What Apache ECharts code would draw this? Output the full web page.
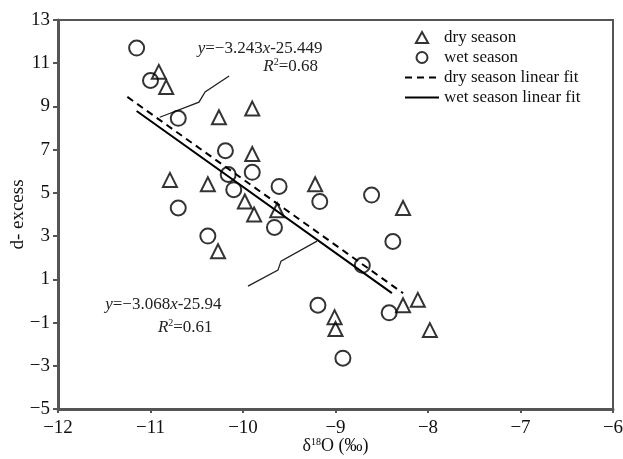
<!DOCTYPE html>
<html>
<head>
<meta charset="utf-8">
<script src="https://cdn.jsdelivr.net/npm/echarts@6/dist/echarts.min.js"></script>
<style>
html, body { margin: 0; padding: 0; background: #fff; }
#main { width: 623px; height: 459px; }
</style>
</head>
<body>
<div id="main"></div>
<script>
// dry season points (triangles)
var dryX = [-10.91, -10.83, -10.26, -9.90, -9.90, -10.79, -10.38, -9.98, -9.88, -9.63, -9.22, -8.27, -10.27, -9.01, -9.00, -8.27, -8.11, -7.98];
var dryY = [10.6, 9.9, 8.5, 8.9, 6.8, 5.6, 5.4, 4.6, 4.0, 4.2, 5.4, 4.3, 2.3, -0.75, -1.3, -0.2, 0.05, -1.35];
// wet season points (circles)
var wetX = [-11.15, -11.0, -10.70, -10.70, -10.19, -10.16, -10.10, -9.90, -9.61, -9.66, -9.17, -8.61, -8.38, -8.71, -9.19, -8.42, -8.92, -10.38];
var wetY = [11.7, 10.2, 8.45, 4.3, 6.95, 5.85, 5.15, 5.95, 5.3, 3.4, 4.6, 4.9, 2.75, 1.65, -0.2, -0.55, -2.65, 3.0];
// fitted lines as drawn (end points)
var dryFitX = [-11.25, -8.27];
var dryFitY = [9.44, 0.36];
var wetFitX = [-11.15, -8.39];
var wetFitY = [8.79, 0.36];
// y tick labels
var yTicks = [-5, -3, -1, 1, 3, 5, 7, 9, 11, 13];
// pointer paths for the equation labels
var ptrUpper = [[-10.15, 10.41], [-10.41, 9.67], [-10.476, 9.20], [-10.90, 8.50]];
var ptrLower = [[-9.946, 0.685], [-9.622, 1.426], [-9.589, 1.843], [-9.20, 2.77]];
// label anchors (left edge, middle)
var eqUpper = { x: -10.49, y: 11.70, text: '{i|y}=−3.243{i|x}-25.449' };
var r2Upper = { x: -9.78, y: 10.87, text: '{i|R}{s|2}=0.68' };
var eqLower = { x: -11.49, y: -0.15, text: '{i|y}=−3.068{i|x}-25.94' };
var r2Lower = { x: -10.92, y: -1.21, text: '{i|R}{s|2}=0.61' };

function zip(a, b) {
	var out = [];
	for (var i = 0; i < a.length; i++) out.push([a[i], b[i]]);
	return out;
}
function minus(v) {
	return String(v).replace('-', '−');
}

var FONT = 'Liberation Serif';
var AX = '#555';

var chart = echarts.init(document.getElementById('main'));
var option = {
	backgroundColor: '#fff',
	animation: false,
	textStyle: { fontFamily: FONT, color: '#000' },
	grid: {
		left: 58, right: 10, top: 20, bottom: 50,
		outerBoundsMode: 'none',
		containLabel: false,
		show: true, borderColor: AX, borderWidth: 2
	},
	legend: {
		data: [
			{ name: 'dry season', icon: 'path://M5,0 L10,9 L0,9 Z' },
			{ name: 'wet season', icon: 'circle' },
			{ name: 'dry season linear fit', itemStyle: { opacity: 0 } },
			{ name: 'wet season linear fit', itemStyle: { opacity: 0 } }
		],
		orient: 'vertical',
		left: 404,
		top: 29,
		padding: 0,
		itemGap: 3,
		itemWidth: 34,
		itemHeight: 11,
		symbolKeepAspect: true,
		textStyle: { fontFamily: FONT, fontSize: 17, color: '#111' }
	},
	xAxis: {
		type: 'value',
		min: -12, max: -6, interval: 1,
		name: 'δ{s|18}O (‰)',
		nameLocation: 'middle',
		nameGap: 28,
		nameMoveOverlap: false,
		nameTextStyle: {
			fontFamily: FONT, fontSize: 18, color: '#111',
			rich: { s: { fontSize: 10, verticalAlign: 'top', fontFamily: FONT } }
		},
		axisLine: { onZero: false, lineStyle: { color: AX, width: 3 } },
		axisTick: { length: 4, lineStyle: { color: AX, width: 2 } },
		axisLabel: { fontSize: 19, color: '#111', margin: 10, formatter: minus },
		splitLine: { show: false }
	},
	yAxis: {
		type: 'value',
		min: -5, max: 13,
		name: 'd- excess',
		nameLocation: 'middle',
		nameGap: 30,
		nameMoveOverlap: false,
		nameTextStyle: { fontFamily: FONT, fontSize: 19, color: '#111' },
		axisLine: { onZero: false, lineStyle: { color: AX, width: 3 } },
		axisTick: { length: 5, customValues: yTicks, lineStyle: { color: AX, width: 2 } },
		axisLabel: { fontSize: 19, color: '#111', margin: 8, customValues: yTicks, formatter: minus },
		splitLine: { show: false }
	},
	series: [{
		name: 'dry season',
		type: 'scatter',
		symbol: 'triangle',
		symbolSize: 14,
		itemStyle: { color: 'rgba(0,0,0,0)', borderColor: '#000', borderWidth: 2 },
		data: zip(dryX, dryY),
		z: 3
	}, {
		name: 'wet season',
		type: 'scatter',
		symbol: 'circle',
		symbolSize: 15,
		itemStyle: { color: 'rgba(0,0,0,0)', borderColor: '#000', borderWidth: 2 },
		data: zip(wetX, wetY),
		z: 3
	}, {
		name: 'dry season linear fit',
		type: 'line',
		symbol: 'none',
		itemStyle: { color: '#000' },
		lineStyle: { color: '#000', width: 2, type: [7, 5] },
		data: zip(dryFitX, dryFitY)
	}, {
		name: 'wet season linear fit',
		type: 'line',
		symbol: 'none',
		itemStyle: { color: '#000' },
		lineStyle: { color: '#000', width: 2 },
		data: zip(wetFitX, wetFitY)
	}, {
		type: 'lines',
		coordinateSystem: 'cartesian2d',
		polyline: true,
		silent: true,
		symbol: ['none', 'arrow'],
		symbolSize: 7,
		lineStyle: { color: '#222', width: 1.3, opacity: 1 },
		data: [{ coords: ptrUpper }, { coords: ptrLower }]
	}]
};
chart.setOption(option);

var labels = [eqUpper, r2Upper, eqLower, r2Lower];
var graphics = labels.map(function (lb) {
	var p = chart.convertToPixel({ gridIndex: 0 }, [lb.x, lb.y]);
	return {
		type: 'text',
		x: p[0], y: p[1],
		silent: true,
		style: {
			text: lb.text,
			fill: '#222',
			font: '17px ' + FONT,
			align: 'left',
			verticalAlign: 'middle',
			rich: {
				i: { fontStyle: 'italic', fontSize: 17, fontFamily: FONT, fill: '#222' },
				s: { fontSize: 10, verticalAlign: 'top', fontFamily: FONT, fill: '#222' }
			}
		}
	};
});
chart.setOption({ graphic: graphics });
</script>
</body>
</html>
